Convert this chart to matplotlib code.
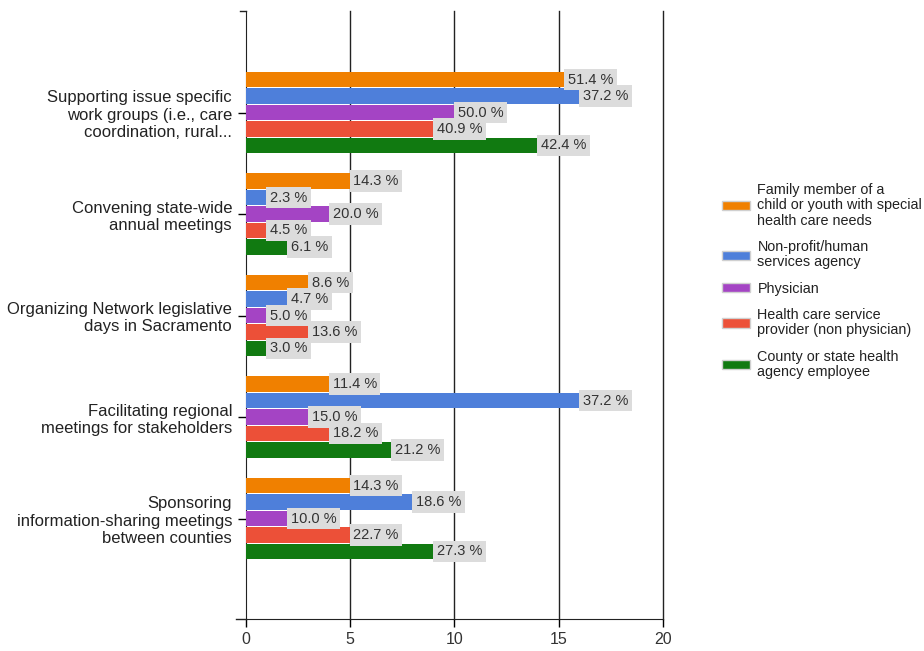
import numpy as np
import matplotlib.pyplot as plt
from matplotlib.patches import Patch

plt.rcParams['font.family'] = ['Liberation Sans', 'DejaVu Sans']

categories = ['Supporting issue specific\nwork groups (i.e., care\ncoordination, rural...',
              'Convening state-wide\nannual meetings',
              'Organizing Network legislative\ndays in Sacramento',
              'Facilitating regional\nmeetings for stakeholders',
              'Sponsoring\ninformation-sharing meetings\nbetween counties']
series = ['Family member of a\nchild or youth with special\nhealth care needs',
          'Non-profit/human\nservices agency',
          'Physician',
          'Health care service\nprovider (non physician)',
          'County or state health\nagency employee']
colors = ['#F08000', '#4E7FDA', '#A444C4', '#EC5038', '#117A11']

# bar lengths (counts) and the percentage shown in the label
family = [15.3, 5, 3, 4, 5]
nonprofit = [16, 1, 2, 16, 8]
physician = [10, 4, 1, 3, 2]
provider = [9, 1, 3, 4, 5]
county = [14, 2, 1, 7, 9]
family_pct = [51.4, 14.3, 8.6, 11.4, 14.3]
nonprofit_pct = [37.2, 2.3, 4.7, 37.2, 18.6]
physician_pct = [50.0, 20.0, 5.0, 15.0, 10.0]
provider_pct = [40.9, 4.5, 13.6, 18.2, 22.7]
county_pct = [42.4, 6.1, 3.0, 21.2, 27.3]

values = [family, nonprofit, physician, provider, county]
pcts = [family_pct, nonprofit_pct, physician_pct, provider_pct, county_pct]

fig = plt.figure(figsize=(9.24, 6.51), dpi=100)
ax = fig.add_axes([246/924, 1-619/651, 417/924, 608/651])

y = np.arange(len(categories))
h = 0.162
for s in range(len(series)):
    ypos = y - 2*h + s*h
    ax.barh(ypos, values[s], height=h*0.95, color=colors[s], zorder=3)
    for i in range(len(categories)):
        ax.text(values[s][i] + 0.15, ypos[i], '%.1f %%' % pcts[s][i],
                va='center', ha='left', fontsize=10.5, color='#333333', zorder=5,
                bbox=dict(boxstyle='square,pad=0.25', facecolor='#DCDCDC', edgecolor='none'))

ax.set_xlim(0, 20)
ax.set_ylim(4.99, -1)
ax.set_xticks([0, 5, 10, 15, 20])
ax.set_yticks(y)
ax.set_yticklabels(categories, fontsize=12, color='#222222')
ax.tick_params(axis='x', labelsize=11.5, labelcolor='#333333', length=6, width=1, pad=3)
ax.tick_params(axis='y', length=6, width=1, pad=4)
for xv in [5, 10, 15, 20]:
    ax.axvline(xv, color='#222222', linewidth=1, zorder=1, clip_on=False)
for sp in ['top', 'right']:
    ax.spines[sp].set_visible(False)
ax.spines['left'].set_color('#222222')
ax.spines['bottom'].set_color('#222222')
ax.plot([-0.5, 0], [4.99, 4.99], color='#222222', linewidth=1, clip_on=False)
ax.plot([-0.3, 0], [-1, -1], color='#222222', linewidth=1, clip_on=False)

handles = [Patch(facecolor=c, edgecolor='#D0D0D0') for c in colors]
leg = fig.legend(handles, series, loc='center left', bbox_to_anchor=(709/924, 1-281/651),
                 frameon=False, fontsize=10.4, handlelength=1.95, handleheight=0.6,
                 handletextpad=0.5, labelspacing=0.85)
for t in leg.get_texts():
    t.set_linespacing(1.12)
    t.set_color('#222222')

plt.savefig('out.png', dpi=100)
